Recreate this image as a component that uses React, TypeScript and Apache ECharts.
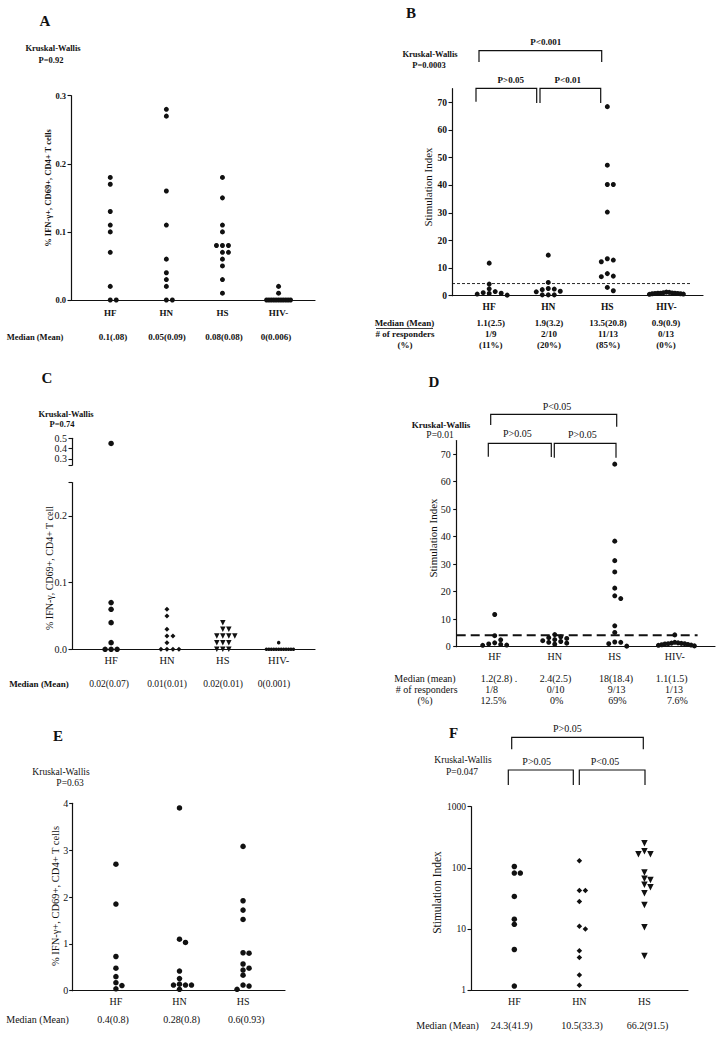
import React, { useEffect, useRef } from "react";
import * as echarts from "echarts";

// ---------------- data ----------------
const groups4 = ["HF", "HN", "HS", "HIV-"];
const groups3 = ["HF", "HN", "HS"];

// Panel A – % IFN-γ+, CD69+, CD4+ T cells
const aHF = [0.18, 0.17, 0.13, 0.11, 0.1, 0.07, 0.02, 0, 0];
const aHN = [0.28, 0.27, 0.16, 0.11, 0.06, 0.04, 0.03, 0.02, 0, 0];
const aHS = [0.18, 0.15, 0.11, 0.1, 0.08, 0.08, 0.08, 0.07, 0.07, 0.06, 0.05, 0.03, 0.01];
const aHIV = [0.02, 0.01, 0, 0, 0, 0, 0, 0, 0, 0, 0, 0, 0];
const aTicks = [0, 0.1, 0.2, 0.3];
const aMedians = ["0.1(.08)", "0.05(0.09)", "0.08(0.08)", "0(0.006)"];

// Panel B – Stimulation Index
const bHF = [11.8, 4.2, 2.5, 1.5, 1.1, 0.9, 0.8, 0.6, 0.2];
const bHN = [14.7, 4.8, 2.6, 2.4, 2.2, 1.6, 1.4, 0.3, 0.3, 0.3];
const bHS = [68.5, 47.3, 40.3, 40.3, 30.3, 13.4, 12.9, 12.3, 8.0, 7.1, 6.9, 3.0, 1.8];
const bHIV = [1.3, 1.2, 1.1, 1.0, 0.9, 0.9, 0.9, 0.8, 0.8, 0.7, 0.7, 0.6, 0.5];
const siTicks = [0, 10, 20, 30, 40, 50, 60, 70];
const bCutoff = 4.4;
const bMedians = ["1.1(2.5)", "1.9(3.2)", "13.5(20.8)", "0.9(0.9)"];
const bResponders = ["1/9", "2/10", "11/13", "0/13"];
const bPercent = ["(11%)", "(20%)", "(85%)", "(0%)"];

// Panel C – % IFN-γ, CD69+, CD4+ T cell (broken axis)
const cHF = [0.45, 0.07, 0.06, 0.04, 0.01, 0, 0, 0];
const cHN = [0.06, 0.05, 0.03, 0.02, 0.02, 0.01, 0, 0, 0, 0];
const cHS = [0.04, 0.03, 0.03, 0.02, 0.02, 0.02, 0.02, 0.01, 0.01, 0.01, 0, 0, 0];
const cHIV = [0.01, 0, 0, 0, 0, 0, 0, 0, 0, 0, 0, 0, 0];
const cTicksLow = [0, 0.1, 0.2];
const cTicksHigh = [0.3, 0.4, 0.5];
const cMedians = ["0.02(0.07)", "0.01(0.01)", "0.02(0.01)", "0(0.001)"];

// Panel D – Stimulation Index
const dHF = [11.7, 4.0, 2.5, 1.4, 1.0, 0.8, 0.6, 0.5];
const dHN = [4.4, 3.6, 3.3, 3.0, 2.6, 2.2, 1.9, 1.6, 1.3, 0.9];
const dHS = [66.4, 38.4, 31.3, 27.2, 21.3, 18.5, 17.5, 7.6, 5.2, 1.7, 1.6, 1.1, 0.2];
const dHIV = [4.3, 1.6, 1.4, 1.3, 1.2, 1.1, 1.1, 1.0, 0.8, 0.7, 0.6, 0.5, 0.3];
const dCutoff = 4.2;
const dMedians = ["1.2(2.8) .", "2.4(2.5)", "18(18.4)", "1.1(1.5)"];
const dResponders = ["1/8", "0/10", "9/13", "1/13"];
const dPercent = ["12.5%", "0%", "69%", "7.6%"];

// Panel E – % IFN-γ+, CD69+, CD4+ T cells
const eHF = [2.7, 1.85, 0.73, 0.48, 0.3, 0.17, 0.11, 0.04];
const eHN = [3.9, 1.1, 1.03, 0.42, 0.26, 0.14, 0.12, 0.12, 0.12, 0.03];
const eHS = [3.08, 1.92, 1.72, 1.52, 0.81, 0.8, 0.57, 0.48, 0.44, 0.33, 0.12, 0.1, 0.03];
const eTicks = [0, 1, 2, 3, 4];
const eMedians = ["0.4(0.8)", "0.28(0.8)", "0.6(0.93)"];

// Panel F – Stimulation Index (log)
const fHF = [105, 82, 82, 34, 14.4, 11.9, 4.6, 1.16];
const fHN = [131, 42.5, 42.5, 28, 11, 10, 4.4, 3.4, 1.76, 1.2];
const fHS = [252, 186, 167, 167, 84, 66, 63, 52.6, 48, 38.5, 24.7, 10.6, 3.6];
const fMedians = ["24.3(41.9)", "10.5(33.3)", "66.2(91.5)"];

// ---------------- styling / layout ----------------
const SERIF = "'Liberation Serif', 'Times New Roman', Times, serif";
const INK = "#111111";

type GroupSpec = { values: number[]; symbol: string; size: number; rotate?: number };
type PanelSpec = {
  key: string;
  grid: { left: number; top: number; width: number; height: number };
  xMin: number; xMax: number;
  yMin: number; yMax: number; log?: boolean;
  yTicks?: number[]; yTickMarks?: number[];
  yFmt?: (v: number) => string;
  cats: string[];
  groups: GroupSpec[];
  bold: boolean; tickSize: number; catSize: number;
  tickMargin: number; catMargin: number;
  maxSpan: number;
  upper?: { top: number; height: number; min: number; max: number; ticks: number[]; tickMarks: number[] };
};

const dot = (values: number[], size = 5): GroupSpec => ({ values, symbol: "circle", size });

const panels: PanelSpec[] = [
  {
    key: "A", grid: { left: 71, top: 95.7, width: 244, height: 204.3 },
    xMin: 0.3, xMax: 4.65, yMin: 0, yMax: 0.3, yTicks: aTicks, yFmt: (v) => v.toFixed(1),
    cats: groups4, groups: [dot(aHF), dot(aHN), dot(aHS), dot(aHIV)],
    bold: true, tickSize: 8.5, catSize: 9, tickMargin: 5, catMargin: 8, maxSpan: 24,
  },
  {
    key: "B", grid: { left: 452, top: 88.7, width: 251, height: 207 },
    xMin: 0.37, xMax: 4.62, yMin: 0, yMax: 75, yTicks: siTicks, yFmt: (v) => String(v),
    cats: groups4, groups: [dot(bHF), dot(bHN), dot(bHS), dot(bHIV)],
    bold: true, tickSize: 9.5, catSize: 9.5, tickMargin: 5, catMargin: 6, maxSpan: 34,
  },
  {
    key: "C", grid: { left: 72, top: 482.6, width: 243, height: 166.7 },
    xMin: 0.3, xMax: 4.65, yMin: 0, yMax: 0.25, yTicks: cTicksLow, yTickMarks: [0, 0.1, 0.2, 0.25],
    yFmt: (v) => v.toFixed(1),
    cats: groups4,
    groups: [
      dot(cHF, 5.5),
      { values: cHN, symbol: "diamond", size: 5 },
      { values: cHS, symbol: "triangle", size: 5.5, rotate: 180 },
      dot(cHIV, 3.5),
    ],
    bold: false, tickSize: 10, catSize: 10.5, tickMargin: 5, catMargin: 5.5, maxSpan: 27,
    upper: { top: 438.3, height: 26.9, min: 0.24, max: 0.5, ticks: cTicksHigh, tickMarks: [0.24, 0.3, 0.4, 0.5] },
  },
  {
    key: "D", grid: { left: 456.7, top: 440.5, width: 258.3, height: 206.2 },
    xMin: 0.367, xMax: 4.67, yMin: 0, yMax: 75, yTicks: siTicks, yFmt: (v) => String(v),
    cats: groups4, groups: [dot(dHF), dot(dHN), dot(dHS), dot(dHIV)],
    bold: false, tickSize: 10, catSize: 10, tickMargin: 6, catMargin: 5, maxSpan: 36,
  },
  {
    key: "E", grid: { left: 72.7, top: 803.3, width: 212.3, height: 187.4 },
    xMin: 0.32, xMax: 3.66, yMin: 0, yMax: 4, yTicks: eTicks, yFmt: (v) => String(v),
    cats: groups3, groups: [dot(eHF, 5.5), dot(eHN, 5.5), dot(eHS, 5.5)],
    bold: false, tickSize: 10, catSize: 10, tickMargin: 4.5, catMargin: 5.5, maxSpan: 30,
  },
  {
    key: "F", grid: { left: 471, top: 806.7, width: 217, height: 183.3 },
    xMin: 0.334, xMax: 3.67, yMin: 1, yMax: 1000, log: true, yFmt: (v) => String(Math.round(v)),
    cats: groups3,
    groups: [
      dot(fHF, 5.5),
      { values: fHN, symbol: "diamond", size: 5.5 },
      { values: fHS, symbol: "triangle", size: 6.5, rotate: 180 },
    ],
    bold: false, tickSize: 9.5, catSize: 10, tickMargin: 5, catMargin: 6.5, maxSpan: 30,
  },
];

// simple dot-plot (beeswarm) lane layout computed from the data
function swarm(
  values: number[], center: number, yPx: (v: number) => number,
  pxPerX: number, stepPx: number, maxSpanPx: number, minDist = 4.6
): number[][] {
  const order = [0];
  for (let k = 1; k <= 14; k++) order.push(k, -k);
  const items = values.map((v) => ({ v, py: yPx(v), lane: 0 })).sort((a, b) => b.v - a.v);
  const placed: { v: number; py: number; lane: number }[] = [];
  for (const it of items) {
    for (const lane of order) {
      if (!placed.some((q) => q.lane === lane && Math.abs(q.py - it.py) < minDist)) {
        it.lane = lane;
        break;
      }
    }
    placed.push(it);
  }
  const lo = Math.min(...items.map((i) => i.lane));
  const hi = Math.max(...items.map((i) => i.lane));
  const span = hi - lo;
  const step = span > 0 ? Math.min(stepPx, maxSpanPx / span) : stepPx;
  return items.map((it) => [center + (it.lane * step) / pxPerX, it.v]);
}

function buildOption() {
  const grids: any[] = [];
  const xAxes: any[] = [];
  const yAxes: any[] = [];
  const series: any[] = [];
  const gridIndex: Record<string, number> = {};

  panels.forEach((p) => {
    const gi = grids.length;
    gridIndex[p.key] = gi;
    const weight = p.bold ? "bold" : "normal";
    grids.push({ ...p.grid, outerBoundsMode: "none", containLabel: false });
    xAxes.push({
      gridIndex: gi, type: "value", min: p.xMin, max: p.xMax,
      axisLine: { show: true, onZero: false, lineStyle: { color: INK, width: 1.2 } },
      axisTick: { show: false }, splitLine: { show: false },
      axisLabel: {
        customValues: p.cats.map((_, i) => i + 1),
        formatter: (v: number) => p.cats[Math.round(v) - 1] ?? "",
        margin: p.catMargin, fontFamily: SERIF, fontSize: p.catSize, fontWeight: weight, color: INK,
      },
    });
    const yAxis: any = {
      gridIndex: gi, type: p.log ? "log" : "value", min: p.yMin, max: p.yMax,
      axisLine: { show: true, onZero: false, lineStyle: { color: INK, width: 1.2 } },
      axisTick: { show: true, length: 3.5, lineStyle: { color: INK, width: 1.1 } },
      splitLine: { show: false },
      axisLabel: {
        margin: p.tickMargin, fontFamily: SERIF, fontSize: p.tickSize, fontWeight: weight, color: INK,
        formatter: p.yFmt,
      },
    };
    if (p.log) {
      yAxis.logBase = 10;
    } else {
      yAxis.axisTick.customValues = p.yTickMarks ?? p.yTicks;
      yAxis.axisLabel.customValues = p.yTicks;
    }
    yAxes.push(yAxis);

    let ui = -1;
    if (p.upper) {
      ui = grids.length;
      grids.push({ left: p.grid.left, width: p.grid.width, top: p.upper.top, height: p.upper.height, outerBoundsMode: "none" });
      xAxes.push({ gridIndex: ui, type: "value", min: p.xMin, max: p.xMax, show: false });
      yAxes.push({
        gridIndex: ui, type: "value", min: p.upper.min, max: p.upper.max,
        axisLine: { show: true, onZero: false, lineStyle: { color: INK, width: 1.2 } },
        axisTick: { show: true, length: 3.5, customValues: p.upper.tickMarks, lineStyle: { color: INK, width: 1.1 } },
        splitLine: { show: false },
        axisLabel: {
          customValues: p.upper.ticks, formatter: (v: number) => v.toFixed(1),
          margin: p.tickMargin, fontFamily: SERIF, fontSize: p.tickSize, fontWeight: weight, color: INK,
        },
      });
    }

    const { top, height, width } = p.grid;
    const pxPerX = width / (p.xMax - p.xMin);
    const up = p.upper;
    const yPx = (v: number) => {
      if (p.log) {
        const l0 = Math.log10(p.yMin), l1 = Math.log10(p.yMax);
        return top + height - ((Math.log10(v) - l0) / (l1 - l0)) * height;
      }
      if (up && v > p.yMax) return up.top + up.height - ((v - up.min) / (up.max - up.min)) * up.height;
      return top + height - ((v - p.yMin) / (p.yMax - p.yMin)) * height;
    };

    p.groups.forEach((g, i) => {
      const pts = swarm(g.values, i + 1, yPx, pxPerX, 6, p.maxSpan);
      const mk = (idx: number, data: number[][]) => ({
        type: "scatter", xAxisIndex: idx, yAxisIndex: idx, data,
        symbol: g.symbol, symbolSize: g.size, symbolRotate: g.rotate ?? 0,
        itemStyle: { color: INK, opacity: 1 }, clip: false, silent: true,
      });
      if (up) {
        series.push(mk(gi, pts.filter((d) => d[1] <= p.yMax)));
        const hiPts = pts.filter((d) => d[1] > p.yMax);
        if (hiPts.length) series.push(mk(ui, hiPts));
      } else {
        series.push(mk(gi, pts));
      }
    });
  });

  // responder cut-off lines
  const pB = panels[1], pD = panels[3];
  series.push({
    type: "line", xAxisIndex: gridIndex.B, yAxisIndex: gridIndex.B, symbol: "none", silent: true,
    data: [[pB.xMin, bCutoff], [4.4, bCutoff]],
    lineStyle: { color: INK, width: 0.9, type: [3, 2] },
  });
  series.push({
    type: "line", xAxisIndex: gridIndex.D, yAxisIndex: gridIndex.D, symbol: "none", silent: true,
    data: [[pD.xMin, dCutoff], [4.38, dCutoff]],
    lineStyle: { color: INK, width: 2, type: [9, 5] },
  });

  // ---------- annotation graphics ----------
  const g: any[] = [];
  const txt = (x: number, y: number, text: string, size: number, bold = false, rot = 0) =>
    g.push({
      type: "text", x, y, rotation: rot, silent: true,
      style: {
        text, fill: INK, font: `${bold ? "bold " : ""}${size}px ${SERIF}`,
        textAlign: "center", textVerticalAlign: "middle",
      },
    });
  const bracket = (x0: number, x1: number, yTop: number, y0: number, y1: number) =>
    g.push({
      type: "polyline", silent: true,
      shape: { points: [[x0, y0], [x0, yTop], [x1, yTop], [x1, y1]] },
      style: { stroke: INK, lineWidth: 1.2, fill: null },
    });
  const row = (xs: number[], y: number, texts: string[], size: number, bold: boolean) =>
    texts.forEach((t, i) => txt(xs[i], y, t, size, bold));
  const R = Math.PI / 2;

  // A
  txt(45, 21, "A", 15, true);
  txt(53, 47.5, "Kruskal-Wallis", 8.5, true);
  txt(51, 60, "P=0.92", 8.5, true);
  txt(48, 188, "% IFN-γ+, CD69+, CD4+ T cells", 8.5, true, R);
  txt(35, 337, "Median (Mean)", 8.5, true);
  row([113, 167, 224, 276], 337, aMedians, 9, true);

  // B
  txt(411, 13, "B", 15, true);
  txt(545.7, 42, "P<0.001", 9, true);
  bracket(479, 601.7, 50.7, 62, 62);
  txt(430, 54, "Kruskal-Wallis", 8.5, true);
  txt(429, 64.5, "P=0.0003", 8.5, true);
  txt(510.7, 80, "P>0.05", 9, true);
  txt(567.7, 79.5, "P<0.01", 9, true);
  bracket(476, 536.7, 88.3, 101.7, 103);
  bracket(540, 600.7, 88.3, 103, 103);
  txt(428, 187, "Stimulation Index", 11, false, R);
  txt(404.5, 323.3, "Median (Mean)", 9, true);
  g.push({ type: "line", silent: true, shape: { x1: 376, y1: 328.5, x2: 433, y2: 328.5 }, style: { stroke: INK, lineWidth: 0.8 } });
  txt(405, 334, "# of responders", 9, true);
  txt(405, 345, "(%)", 9, true);
  const bx = [490.7, 549, 608, 666];
  row(bx, 323.3, bMedians, 9, true);
  row(bx, 334, bResponders, 9, true);
  row(bx, 345, bPercent, 9, true);

  // C
  txt(47, 378, "C", 15, true);
  txt(66, 414, "Kruskal-Wallis", 8.5, true);
  txt(62, 424.3, "P=0.74", 8.5, true);
  txt(49, 568, "% IFN-γ, CD69+, CD4+ T cell", 10, false, R);
  txt(39, 684, "Median (Mean)", 9, true);
  row([109, 167, 223, 274], 684, cMedians, 9.5, false);

  // D
  txt(434, 381.7, "D", 15, true);
  txt(557, 406.7, "P<0.05", 10);
  bracket(490.7, 616.7, 414.3, 425, 426.7);
  txt(441, 425, "Kruskal-Wallis", 9, true);
  txt(440, 435.3, "P=0.01", 9.5);
  txt(517.3, 433.3, "P>0.05", 10);
  txt(582.3, 434, "P>0.05", 10);
  bracket(488.3, 551.3, 443.3, 456.7, 457);
  bracket(554.3, 616, 443.3, 457.7, 457.7);
  txt(433, 538, "Stimulation Index", 11, false, R);
  txt(425, 678.3, "Median (mean)", 10);
  txt(426.7, 689.3, "# of responders", 10);
  txt(425, 700, "(%)", 10);
  row([499, 555.5, 616, 671.7], 678.3, dMedians, 10, false);
  row([491.7, 555.7, 616.7, 674], 689.3, dResponders, 10, false);
  row([493.3, 556.7, 617.3, 677.3], 700, dPercent, 10, false);

  // E
  txt(58, 735.7, "E", 15, true);
  txt(61, 771.7, "Kruskal-Wallis", 9.5);
  txt(70, 783.3, "P=0.63", 9.5);
  txt(55, 896, "% IFN-γ+, CD69+, CD4+ T cells", 10.5, false, R);
  txt(37.5, 1019.3, "Median (Mean)", 10);
  row([113, 181.7, 246.3], 1019.3, eMedians, 10, false);

  // F
  txt(453.5, 733.3, "F", 15, true);
  txt(567.3, 728.3, "P>0.05", 10);
  bracket(511.7, 643.3, 737.3, 749.3, 749.3);
  txt(463, 760, "Kruskal-Wallis", 9.5);
  txt(462, 771.7, "P=0.047", 9.5);
  txt(536.7, 761.7, "P>0.05", 10);
  txt(605, 761.7, "P<0.05", 10);
  bracket(508.3, 573.3, 770, 785, 785);
  bracket(579.3, 645, 770, 785, 785);
  txt(437, 892.5, "Stimulation Index", 11.5, false, R);
  txt(447.5, 1025, "Median (Mean)", 10);
  row([511.7, 582, 647.5], 1025, fMedians, 10, false);

  return {
    animation: false,
    backgroundColor: "#ffffff",
    textStyle: { fontFamily: SERIF, color: INK },
    grid: grids,
    xAxis: xAxes,
    yAxis: yAxes,
    series,
    graphic: { elements: g },
  };
}

export default function App() {
  const ref = useRef<HTMLDivElement>(null);
  useEffect(() => {
    if (!ref.current) return;
    const chart = echarts.init(ref.current, undefined, { renderer: "svg" });
    chart.setOption(buildOption() as any);
    return () => chart.dispose();
  }, []);
  return (
    <div
      ref={ref}
      style={{ position: "absolute", left: 0, top: 0, width: 725, height: 1040, background: "#fff" }}
    />
  );
}
